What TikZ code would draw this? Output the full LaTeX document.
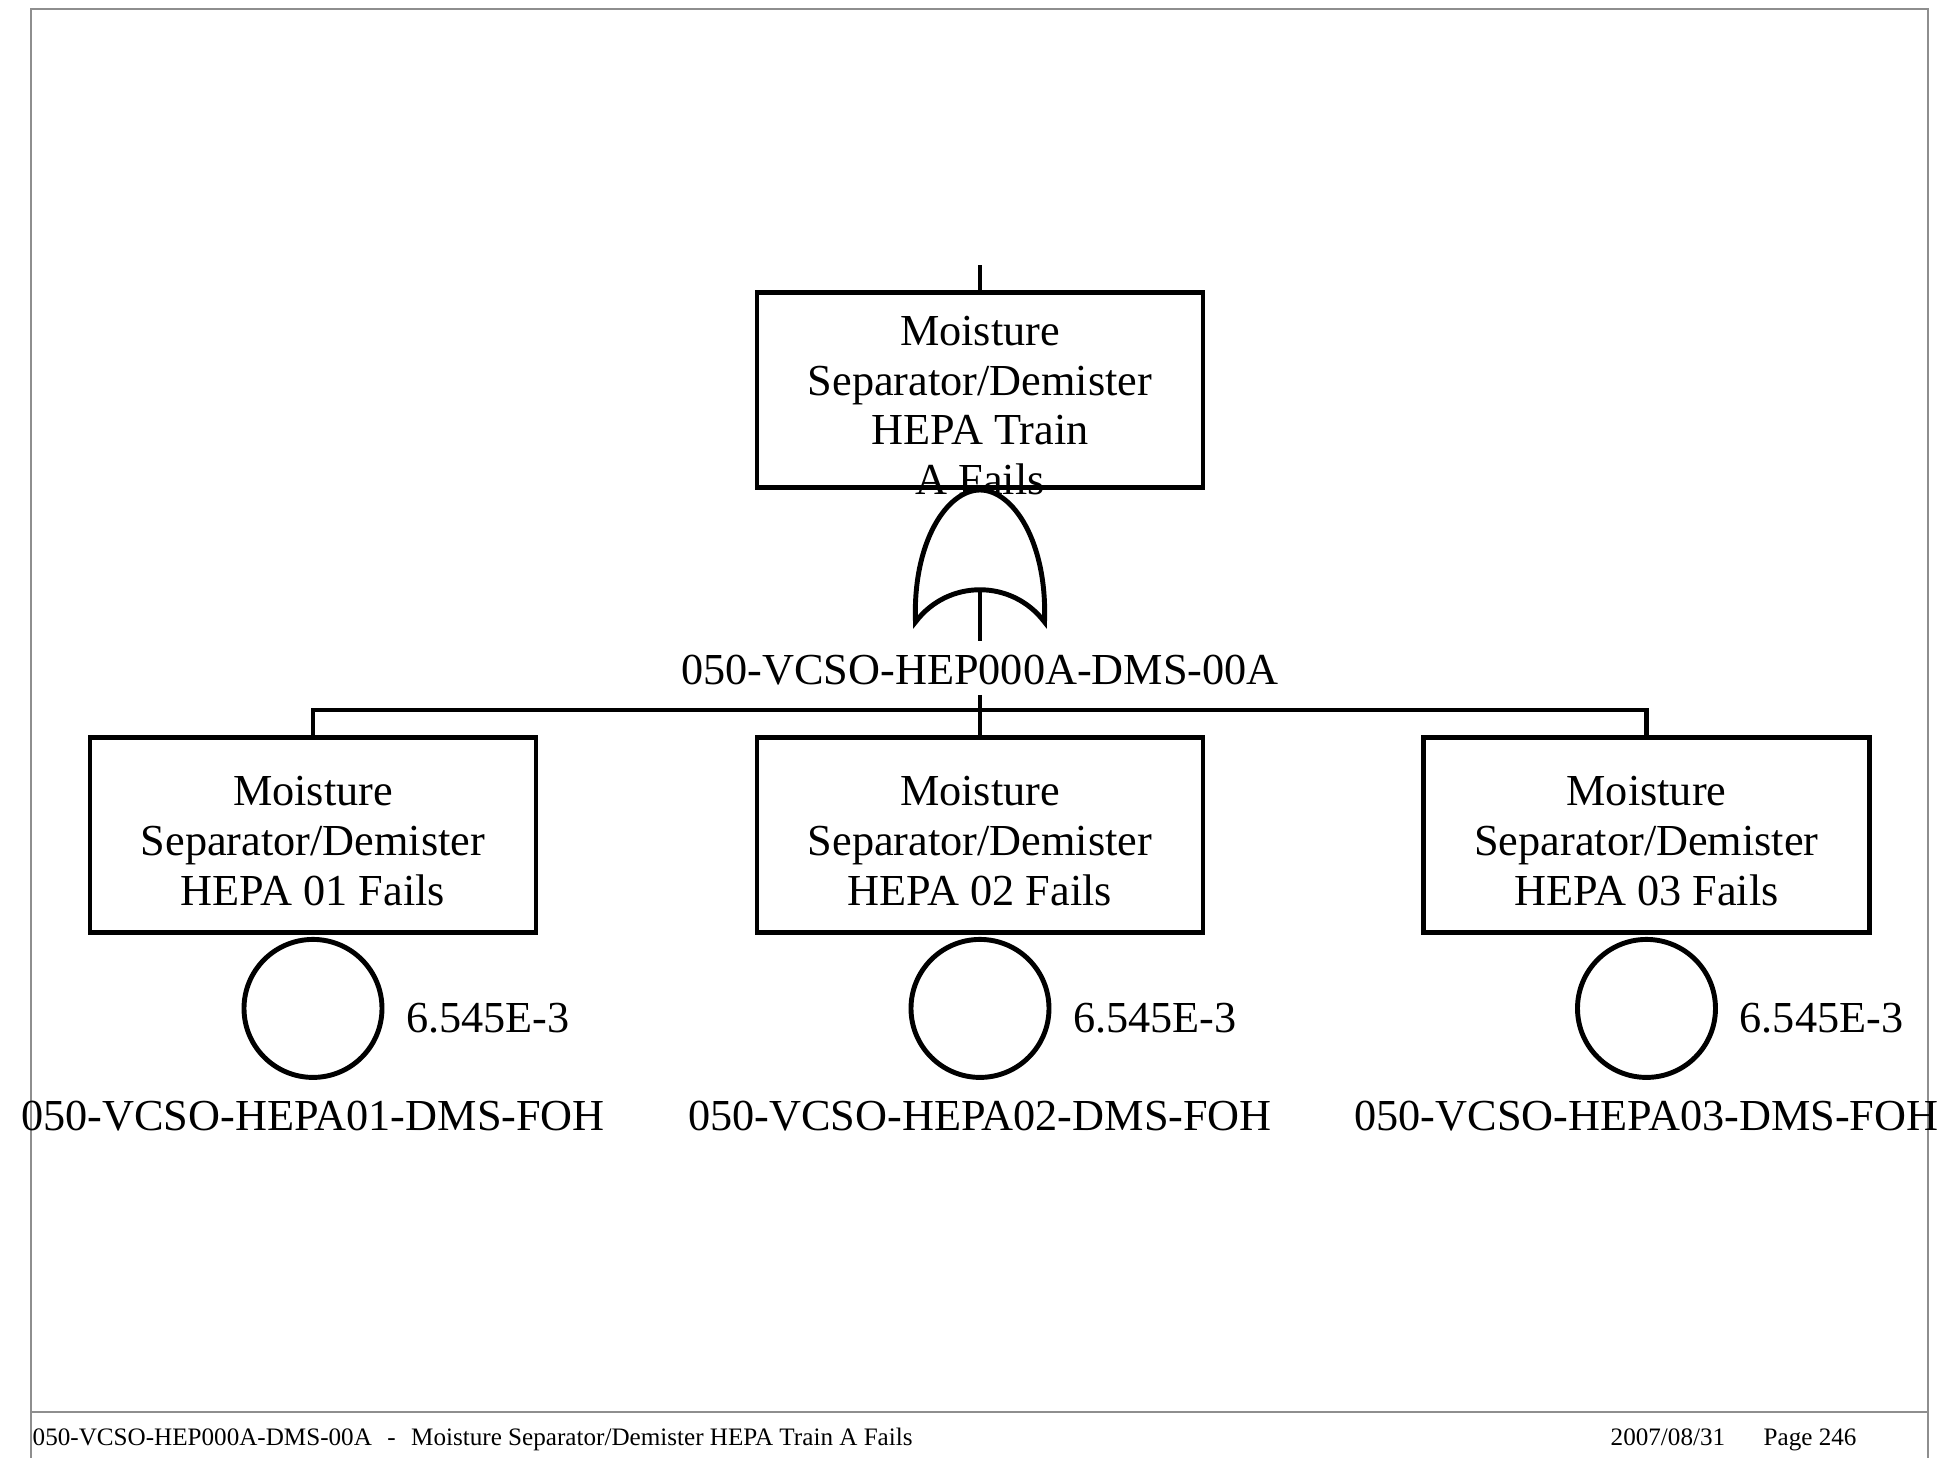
\documentclass[tikz,border=0pt]{standalone}
\usepackage{fontspec}
\setmainfont{Liberation Serif}
\usepackage{xcolor}
\usepackage{tikz}
\usetikzlibrary{positioning}
\definecolor{inkK}{HTML}{000000}
\definecolor{cGrey}{HTML}{8E8E8E}
\newcommand\evfont{\fontsize{12.6}{14.17}\selectfont}
\newcommand\pagefootfont{\fontsize{7.15}{8}\selectfont}

\begin{document}
\begin{tikzpicture}[
    evbox/.style={draw=inkK, line width=1.4pt, fill=white,
                  minimum width=4.46cm, minimum height=1.95cm,
                  inner sep=0pt},
    evtext/.style={inner sep=0pt, align=center, text=inkK, font=\evfont},
    basic/.style={draw=inkK, line width=1.4pt, circle,
                  minimum size=1.38cm, inner sep=0pt},
    wire/.style={draw=inkK, line width=1.4pt},
    pageline/.style={draw=cGrey, line width=0.6pt},
    foot/.style={inner sep=0pt, anchor=base west, font=\pagefootfont, text=inkK}
  ]
  \fill[white] (0,0) rectangle (19.5,-14.58);
  \useasboundingbox (0,0) rectangle (19.5,-14.58);

  \coordinate (pgTL) at (0.31,-0.09);
  \coordinate (pgTR) at (19.28,-0.09);
  \coordinate (pgBL) at (0.31,-14.58);
  \coordinate (pgBR) at (19.28,-14.58);
  \coordinate (ruleL) at (0.31,-14.12);
  \coordinate (ruleR) at (19.28,-14.12);
  \draw[pageline] (pgBL) -- (pgTL) -- (pgTR) -- (pgBR);
  \draw[pageline] (ruleL) -- (ruleR);

  \node[evbox] (topbox) at (9.80,-3.90) {};
  \node[evtext] (toptext) at (9.80,-4.055) {Moisture\\Separator/Demister\\HEPA Train\\A Fails};
  \coordinate (topin) at (9.80,-2.65);
  \draw[wire] (topbox.north) -- (topin);

  \coordinate (gate) at (9.80,-4.90);
  \coordinate (gateout) at (9.80,-5.90);
  \draw[wire, fill=white] (9.155,-6.22) .. controls (9.125,-5.42) and (9.47,-4.90) .. (gate)
    .. controls (10.13,-4.90) and (10.475,-5.42) .. (10.445,-6.22)
    .. controls (10.12,-5.79) and (9.48,-5.79) .. cycle;
  \node[evtext] (glabel) at (9.80,-6.70) {050-VCSO-HEP000A-DMS-00A};
  \draw[wire] (gateout) -- ([yshift=0.13cm]glabel.north);

  \node[evbox] (hepa1) at (3.13,-8.35) {};
  \node[evbox] (hepa2) at (9.80,-8.35) {};
  \node[evbox] (hepa3) at (16.465,-8.35) {};
  \node[evtext] (hepa1txt) at ([yshift=-0.06cm]hepa1.center) {Moisture\\Separator/Demister\\HEPA 01 Fails};
  \node[evtext] (hepa2txt) at ([yshift=-0.06cm]hepa2.center) {Moisture\\Separator/Demister\\HEPA 02 Fails};
  \node[evtext] (hepa3txt) at ([yshift=-0.06cm]hepa3.center) {Moisture\\Separator/Demister\\HEPA 03 Fails};

  \coordinate (bus) at (9.80,-7.10);
  \draw[wire] ([yshift=-0.09cm]glabel.south) -- (hepa2.north);
  \draw[wire] (hepa1.north) |- (bus) -| (hepa3.north);

  \node[basic, below=0.02cm of hepa1] (ev1) {};
  \node[evtext, right=0.21cm of ev1, yshift=-0.1cm] (prob1) {6.545E-3};
  \node[evtext, below=0.2cm of ev1] (name1) {050-VCSO-HEPA01-DMS-FOH};

  \node[basic, below=0.02cm of hepa2] (ev2) {};
  \node[evtext, right=0.21cm of ev2, yshift=-0.1cm] (prob2) {6.545E-3};
  \node[evtext, below=0.2cm of ev2] (name2) {050-VCSO-HEPA02-DMS-FOH};

  \node[basic, below=0.02cm of hepa3] (ev3) {};
  \node[evtext, right=0.21cm of ev3, yshift=-0.1cm] (prob3) {6.545E-3};
  \node[evtext, below=0.2cm of ev3] (name3) {050-VCSO-HEPA03-DMS-FOH};

  \node[foot] (footid) at (0.32,-14.45) {050-VCSO-HEP000A-DMS-00A\hspace{0.61em}-\hspace{0.62em}Moisture Separator/Demister HEPA Train A Fails};
  \node[foot] (footdate) at (16.10,-14.45) {2007/08/31};
  \node[foot] (footpage) at (17.63,-14.45) {Page 246};
\end{tikzpicture}
\end{document}
